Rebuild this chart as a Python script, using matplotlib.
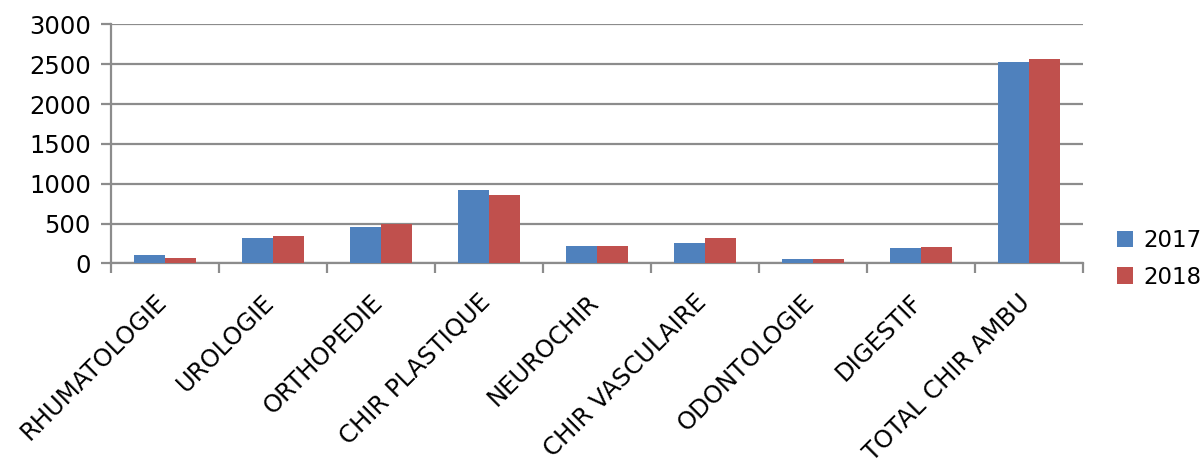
import numpy as np
import matplotlib
matplotlib.use('Agg')
import matplotlib.pyplot as plt
import matplotlib.transforms as mtransforms
from matplotlib.ticker import FixedLocator

# Interventions de chirurgie ambulatoire par spécialité
categories = ['RHUMATOLOGIE', 'UROLOGIE', 'ORTHOPEDIE', 'CHIR PLASTIQUE',
              'NEUROCHIR', 'CHIR VASCULAIRE', 'ODONTOLOGIE', 'DIGESTIF',
              'TOTAL CHIR AMBU']
val_2017 = [104, 317, 455, 920, 217, 255, 54, 192, 2527]
val_2018 = [66, 343, 492, 857, 217, 318, 54, 205, 2565]
years = ['2017', '2018']
y_ticks = [0, 500, 1000, 1500, 2000, 2500, 3000]

blue = '#4F81BD'
red = '#C0504D'
grey = '#8C8C8C'

plt.rcParams['font.family'] = ['DejaVu Sans']

fig = plt.figure(figsize=(12.03, 4.66), dpi=100)
ax = fig.add_axes([0.0923, 0.4346, 0.8080, 0.5133])

x = np.arange(len(categories))
w = 0.287
ax.bar(x - w / 2, val_2017, width=w, color=blue, label=years[0], zorder=3)
ax.bar(x + w / 2, val_2018, width=w, color=red, label=years[1], zorder=3)

ax.set_xlim(-0.5, len(categories) - 0.5)
ax.set_ylim(0, 3000)
ax.set_yticks(y_ticks)
ax.grid(axis='y', color=grey, linewidth=1.6, zorder=0)

for s in ['top', 'right']:
    ax.spines[s].set_visible(False)
for s in ['left', 'bottom']:
    ax.spines[s].set_color(grey)
    ax.spines[s].set_linewidth(1.6)

ax.tick_params(axis='y', length=7.5, width=1.6, color=grey, pad=7, labelsize=17.5)

# labels centred under the groups, tick marks between the groups
ax.set_xticks(x)
ax.set_xticklabels(categories, rotation=45, ha='right', va='top',
                   rotation_mode='anchor', fontsize=17.5)
ax.tick_params(axis='x', which='major', length=0, pad=19)
shift = mtransforms.ScaledTranslation(-11 / 100, 0, fig.dpi_scale_trans)
for lab in ax.get_xticklabels():
    lab.set_transform(lab.get_transform() + shift)
ax.xaxis.set_minor_locator(FixedLocator(np.arange(-0.5, len(categories), 1.0)))
ax.tick_params(axis='x', which='minor', length=7, width=1.6, color=grey)

leg = ax.legend(loc='center left', bbox_to_anchor=(0.921, 0.445),
                bbox_transform=fig.transFigure, frameon=False, fontsize=16.5,
                handlelength=0.7, handleheight=0.7, handletextpad=0.45,
                labelspacing=0.6, borderaxespad=0)

fig.savefig('out.png', dpi=100)
